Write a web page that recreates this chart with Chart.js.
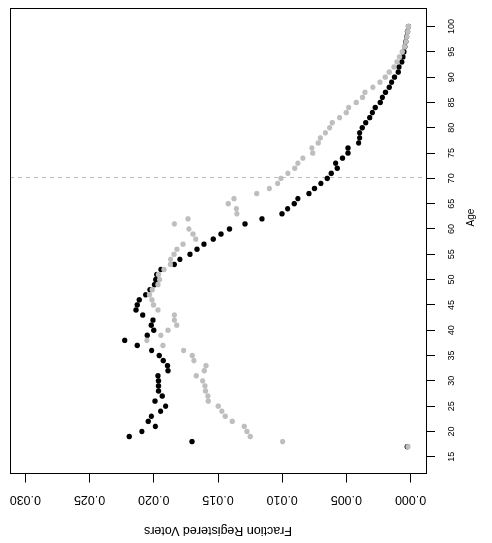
<!DOCTYPE html>
<html>
<head>
<meta charset="utf-8">
<script src="https://cdn.jsdelivr.net/npm/chart.js@4.4.1/dist/chart.umd.min.js"></script>
<style>
    html, body { margin: 0; padding: 0; background: #fff; overflow: hidden; }
    /* the plot is drawn with Age on x, then turned a quarter turn left */
    #wrap {
        position: absolute; left: 0; top: 0;
        width: 543px; height: 492px;
        transform-origin: 0 0;
        transform: translateY(543px) rotate(-90deg);
    }
</style>
</head>
<body>
<div id="wrap"><canvas id="plot" width="543" height="492"></canvas></div>
<script>
const ages = [17, 18, 19, 20, 21, 22, 23, 24, 25, 26, 27, 28, 29, 30, 31, 32, 33, 34, 35, 36,
    37, 38, 39, 40, 41, 42, 43, 44, 45, 46, 47, 48, 49, 50, 51, 52, 53, 54, 55, 56,
    57, 58, 59, 60, 61, 62, 63, 64, 65, 66, 67, 68, 69, 70, 71, 72, 73, 74, 75, 76,
    77, 78, 79, 80, 81, 82, 83, 84, 85, 86, 87, 88, 89, 90, 91, 92, 93, 94, 95, 96,
    97, 98, 99, 100];

const blackFrac = [0.00026, 0.01703, 0.02191, 0.02093, 0.01988, 0.02043, 0.02019, 0.01947, 0.01908, 0.01991,
    0.01934, 0.01963, 0.01963, 0.01963, 0.01968, 0.01890, 0.01893, 0.01926, 0.01957, 0.02017,
    0.02129, 0.02227, 0.02051, 0.02000, 0.02020, 0.02007, 0.02087, 0.02139, 0.02129, 0.02113,
    0.02064, 0.02030, 0.01994, 0.01985, 0.01978, 0.01945, 0.01840, 0.01797, 0.01719, 0.01664,
    0.01610, 0.01537, 0.01477, 0.01410, 0.01290, 0.01158, 0.01002, 0.00958, 0.00906, 0.00878,
    0.00792, 0.00748, 0.00699, 0.00649, 0.00618, 0.00571, 0.00584, 0.00530, 0.00488, 0.00488,
    0.00405, 0.00397, 0.00397, 0.00376, 0.00350, 0.00319, 0.00298, 0.00275, 0.00236, 0.00220,
    0.00195, 0.00166, 0.00148, 0.00125, 0.00096, 0.00091, 0.00068, 0.00060, 0.00052, 0.00045,
    0.00038, 0.00031, 0.00024, 0.00017];

const grayFrac = [0.00021, 0.00997, 0.01249, 0.01275, 0.01295, 0.01389, 0.01443, 0.01470, 0.01498, 0.01576,
    0.01579, 0.01597, 0.01602, 0.01620, 0.01669, 0.01607, 0.01594, 0.01688, 0.01700, 0.01768,
    0.01929, 0.02054, 0.01945, 0.01890, 0.01822, 0.01840, 0.01840, 0.01968, 0.02002, 0.02015,
    0.02033, 0.02012, 0.01968, 0.01955, 0.01963, 0.01921, 0.01871, 0.01869, 0.01843, 0.01820,
    0.01773, 0.01674, 0.01695, 0.01727, 0.01840, 0.01734, 0.01353, 0.01357, 0.01420, 0.01376,
    0.01199, 0.01100, 0.01036, 0.01010, 0.00956, 0.00903, 0.00878, 0.00839, 0.00763, 0.00769,
    0.00719, 0.00703, 0.00664, 0.00631, 0.00610, 0.00553, 0.00501, 0.00483, 0.00423, 0.00374,
    0.00356, 0.00294, 0.00239, 0.00197, 0.00166, 0.00130, 0.00107, 0.00086, 0.00065, 0.00047,
    0.00037, 0.00029, 0.00023, 0.00016];

const ageTicks = [15, 20, 25, 30, 35, 40, 45, 50, 55, 60, 65, 70, 75, 80, 85, 90, 95, 100];
const fracTicks = [0.000, 0.005, 0.010, 0.015, 0.020, 0.025, 0.030];
const fracTickLabels = ["0.000", "0.005", "0.010", "0.015", "0.020", "0.025", "0.030"];
const refAge = 70;

const fontFamily = "'Liberation Sans', Arial, Helvetica, sans-serif";
const black = "#000000";
const gray = "#bebebe";

function toPoints(vals) {
    return ages.map(function (a, i) { return { x: a, y: vals[i] }; });
}

// box, dashed reference line, rotated y labels and axis titles like base R
const rPlot = {
    id: "rPlot",
    beforeDatasetsDraw(chart) {
        const { ctx, chartArea: a, scales: { x } } = chart;
        const px = Math.round(x.getPixelForValue(refAge)) + 0.5;
        ctx.save();
        ctx.strokeStyle = gray;
        ctx.lineWidth = 1;
        ctx.setLineDash([4, 4]);
        ctx.beginPath();
        ctx.moveTo(px, a.top);
        ctx.lineTo(px, a.bottom);
        ctx.stroke();
        ctx.restore();
    },
    afterDraw(chart) {
        const { ctx, chartArea: a, scales: { y } } = chart;
        ctx.save();
        ctx.strokeStyle = black;
        ctx.lineWidth = 1;
        ctx.strokeRect(Math.round(a.left) + 0.5, Math.round(a.top) + 0.5,
            Math.round(a.right - a.left), Math.round(a.bottom - a.top));

        ctx.fillStyle = black;
        ctx.textAlign = "center";
        ctx.textBaseline = "middle";
        ctx.font = "12.5px " + fontFamily;
        fracTicks.forEach(function (v, i) {
            ctx.save();
            ctx.translate(a.left - 25, y.getPixelForValue(v));
            ctx.rotate(-Math.PI / 2);
            ctx.fillText(fracTickLabels[i], 0, 0);
            ctx.restore();
        });

        ctx.save();
        ctx.translate(13, (a.top + a.bottom) / 2);
        ctx.rotate(-Math.PI / 2);
        ctx.fillText("Fraction Registered Voters", 0, 0);
        ctx.restore();

        ctx.font = "10px " + fontFamily;
        ctx.fillText("Age", 325.5, 471.5);
        ctx.restore();
    }
};

new Chart(document.getElementById("plot").getContext("2d"), {
    type: "scatter",
    data: {
        datasets: [{
            label: "gray",
            data: toPoints(grayFrac),
            backgroundColor: gray,
            borderWidth: 0,
            pointRadius: 2.7,
            order: 0
        }, {
            label: "black",
            data: toPoints(blackFrac),
            backgroundColor: black,
            borderWidth: 0,
            pointRadius: 2.7,
            order: 1
        }]
    },
    options: {
        responsive: false,
        animation: false,
        layout: { padding: { top: 10, right: 9.3, left: 0, bottom: 0 } },
        plugins: {
            legend: { display: false },
            tooltip: { enabled: false }
        },
        scales: {
            x: {
                type: "linear",
                position: "bottom",
                min: 11.6,
                max: 103.4,
                afterBuildTicks: function (s) { s.ticks = ageTicks.map(function (v) { return { value: v }; }); },
                afterFit: function (s) { s.height = 66; },
                border: { display: false },
                grid: { drawOnChartArea: false, drawTicks: true, tickLength: 9, tickColor: black },
                ticks: {
                    color: black,
                    font: { family: fontFamily, size: 9 },
                    padding: 11,
                    maxRotation: 0,
                    autoSkip: false
                }
            },
            y: {
                type: "linear",
                position: "left",
                min: -0.0012,
                max: 0.0312,
                afterBuildTicks: function (s) { s.ticks = fracTicks.map(function (v) { return { value: v }; }); },
                afterFit: function (s) { s.width = 69; },
                border: { display: false },
                grid: { drawOnChartArea: false, drawTicks: true, tickLength: 8.5, tickColor: black },
                ticks: { display: false }
            }
        }
    },
    plugins: [rPlot]
});
</script>
</body>
</html>
